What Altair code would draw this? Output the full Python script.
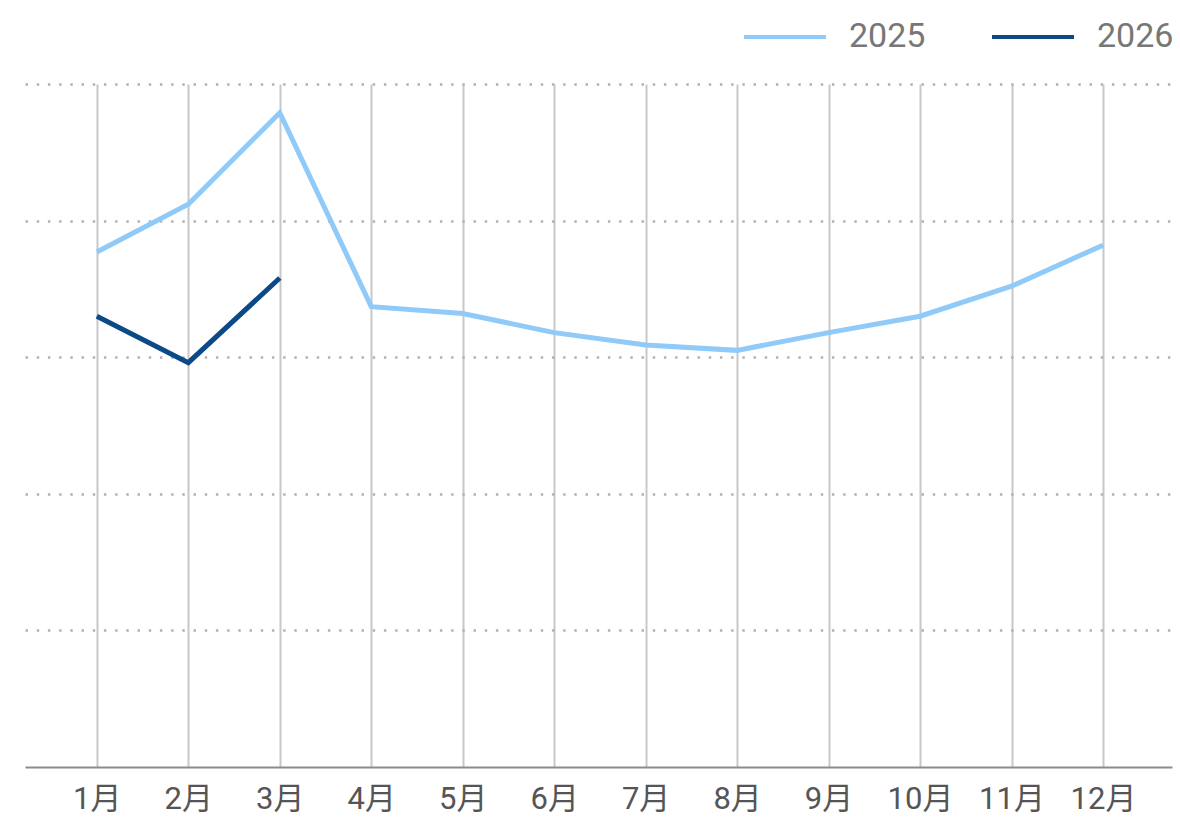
import altair as alt
import pandas as pd

# Monthly series (index units, gridlines every 1.0)
months = ["1月", "2月", "3月", "4月", "5月", "6月", "7月", "8月", "9月", "10月", "11月", "12月"]
values_2025 = [3.77, 4.12, 4.79, 3.37, 3.32, 3.18, 3.09, 3.05, 3.18, 3.30, 3.52, 3.82]
values_2026 = [3.30, 2.96, 3.58]
years = ["2025", "2026"]
year_colors = ["#90CAF9", "#0B4A87"]
grid_values = [1, 2, 3, 4, 5]

rows = []
for year, series in zip(years, [values_2025, values_2026]):
    for m, v in zip(months, series):
        rows.append({"month": m, "value": v, "year": year})
df = pd.DataFrame(rows)

FONT = "Roboto, Noto Sans CJK SC, sans-serif"

chart = (
    alt.Chart(df)
    .mark_line(strokeWidth=5)
    .encode(
        x=alt.X(
            "month:N",
            sort=months,
            scale=alt.Scale(type="point", padding=0.77, align=0.51),
            axis=alt.Axis(
                title=None,
                labelAngle=0,
                ticks=False,
                grid=True,
                gridColor="#c8c8c8",
                gridWidth=2,
                domainColor="#8c8c8c",
                domainWidth=2,
                labelFont=FONT,
                labelFontSize=31,
                labelColor="#555555",
                labelPadding=17,
            ),
        ),
        y=alt.Y(
            "value:Q",
            scale=alt.Scale(domain=[0, 5], nice=False),
            axis=alt.Axis(
                title=None,
                labels=False,
                ticks=False,
                domain=False,
                values=grid_values,
                grid=True,
                gridDash=[2.5, 8.7],
                gridColor="#b3b3b3",
                gridWidth=2.5,
            ),
        ),
        color=alt.Color(
            "year:N",
            scale=alt.Scale(domain=years, range=year_colors),
            legend=alt.Legend(
                title=None,
                orient="none",
                direction="horizontal",
                legendX=717,
                legendY=-90,
                symbolType="stroke",
                symbolSize=6724,
                symbolStrokeWidth=4,
                labelFont=FONT,
                labelFontSize=34,
                labelColor="#777777",
                labelOffset=21,
                columnPadding=58,
                padding=0,
            ),
        ),
    )
    .properties(
        width=1147,
        height=683,
        padding={"left": 25, "top": 84, "right": 8, "bottom": 51},
        autosize="none",
    )
    .configure_view(stroke=None)
)

chart.save("out.html", embed_options={"renderer": "svg", "actions": False})
